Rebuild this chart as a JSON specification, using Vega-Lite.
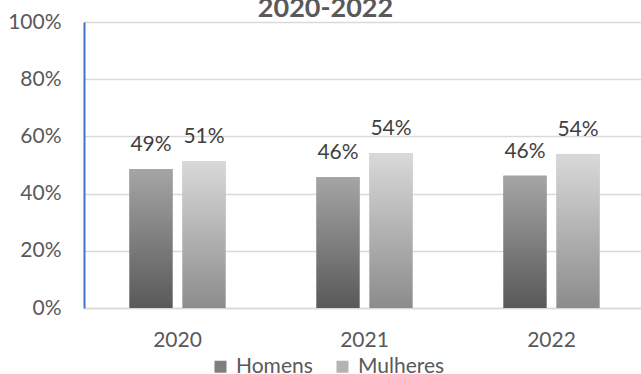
{
  "$schema": "https://vega.github.io/schema/vega-lite/v6.json",
  "width": 557,
  "height": 286,
  "autosize": {"type": "none"},
  "padding": {"left": 84, "top": 22, "right": 0, "bottom": 66},
  "background": "white",
  "config": {"view": {"stroke": null}, "font": "Lato"},
  "title": {"text": "2020-2022", "fontSize": 27, "fontWeight": "bold", "color": "#595959", "anchor": "middle", "dx": -37, "dy": 40, "offset": 7, "baseline": "alphabetic"},
  "data": {"values": [
    {"ano": "2020", "sexo": "Homens", "valor": 0.486},
    {"ano": "2020", "sexo": "Mulheres", "valor": 0.514},
    {"ano": "2021", "sexo": "Homens", "valor": 0.458},
    {"ano": "2021", "sexo": "Mulheres", "valor": 0.542},
    {"ano": "2022", "sexo": "Homens", "valor": 0.462},
    {"ano": "2022", "sexo": "Mulheres", "valor": 0.538}
  ]},
  "encoding": {
    "x": {"field": "ano", "type": "nominal", "title": null,
      "scale": {"range": [0, 561], "paddingInner": 0.433, "paddingOuter": 0.2165},
      "axis": {"labelAngle": 0, "ticks": false, "domainColor": "#d9d9d9", "domainWidth": 1.5, "labelPadding": 21, "labelFontSize": 21, "labelColor": "#595959", "grid": false}},
    "xOffset": {"field": "sexo", "type": "nominal", "sort": ["Homens", "Mulheres"],
      "scale": {"paddingInner": 0.189, "paddingOuter": 0.0943}},
    "y": {"field": "valor", "type": "quantitative", "title": null,
      "scale": {"domain": [0, 1]},
      "axis": {"format": ".0%", "values": [0, 0.2, 0.4, 0.6, 0.8, 1], "domainColor": "#4472C4", "domainWidth": 2, "ticks": false, "labelPadding": 23, "labelFontSize": 21, "labelColor": "#595959", "gridColor": "#d9d9d9", "gridWidth": 1.3}}
  },
  "layer": [
    {
      "mark": {"type": "bar"},
      "encoding": {
        "color": {"field": "sexo", "type": "nominal",
          "scale": {"domain": ["Homens", "Mulheres"], "range": ["#7f7f7f", "#b3b3b3"]},
          "legend": {"orient": "none", "legendX": 126, "legendY": 334, "direction": "horizontal", "title": null, "symbolType": "square", "symbolSize": 144, "symbolOpacity": 1, "symbolStrokeWidth": 0, "labelFontSize": 21, "labelColor": "#595959", "labelOffset": 5, "columnPadding": 19}
        }
      }
    },
    {
      "mark": {"type": "bar"},
      "encoding": {
        "fill": {
          "condition": {"test": "datum.sexo === 'Homens'", "value": {"gradient": "linear", "x1": 0, "y1": 0, "x2": 0, "y2": 1, "stops": [{"offset": 0, "color": "#a5a5a5"}, {"offset": 1, "color": "#595959"}]}},
          "value": {"gradient": "linear", "x1": 0, "y1": 0, "x2": 0, "y2": 1, "stops": [{"offset": 0, "color": "#d9d9d9"}, {"offset": 1, "color": "#8c8c8c"}]}
        }
      }
    },
    {
      "mark": {"type": "text", "dy": -18, "baseline": "alphabetic", "fontSize": 21, "color": "#404040"},
      "encoding": {"text": {"field": "valor", "type": "quantitative", "format": ".0%"}}
    }
  ]
}
